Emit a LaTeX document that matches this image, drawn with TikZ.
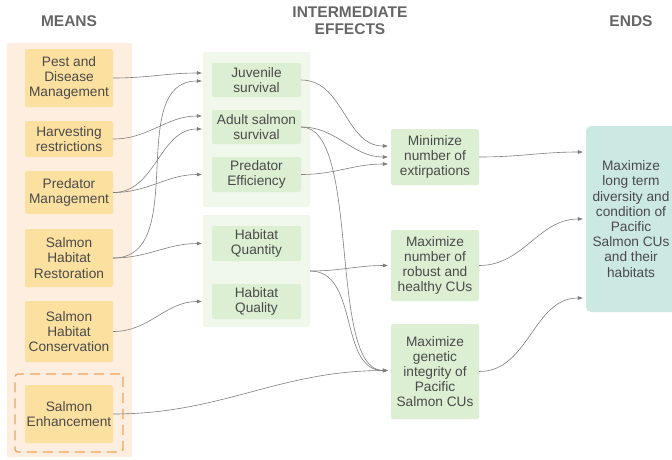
\documentclass[tikz,border=0pt]{standalone}
\usepackage{fontspec}
\setmainfont{Liberation Sans}
\usetikzlibrary{arrows.meta}
\definecolor{orbg}{HTML}{FDEEE0}
\definecolor{meanfill}{HTML}{FCE09F}
\definecolor{dashc}{HTML}{F0A55C}
\definecolor{grpbg}{HTML}{EFF8EA}
\definecolor{efffill}{HTML}{DCEFD2}
\definecolor{endfill}{HTML}{CCE8E3}
\definecolor{txt}{HTML}{4A4A4A}
\definecolor{titlec}{HTML}{666666}
\definecolor{linec}{HTML}{7F7F7F}
\begin{document}
\begin{tikzpicture}[x=1pt,y=-1pt,
  font=\fontsize{13.7}{15.2}\selectfont,
  titlenode/.style={font=\fontsize{15.5}{17}\selectfont\bfseries, text=titlec, align=center, inner sep=0pt},
  meansbox/.style={fill=meanfill, rounded corners=2pt, minimum width=88pt, inner sep=0pt, align=center, text=txt},
  effbox/.style={fill=efffill, rounded corners=2pt, minimum width=89pt, inner sep=0pt, align=center, text=txt},
  objbox/.style={fill=efffill, rounded corners=2pt, minimum width=88pt, inner sep=0pt, align=center, text=txt},
  endbox/.style={fill=endfill, rounded corners=5pt, minimum width=90pt, inner sep=0pt, align=center, text=txt},
  grpbox/.style={fill=grpbg, rounded corners=2pt, minimum width=107pt, inner sep=0pt},
  conn/.style={draw=linec, line width=0.6pt, -{Triangle[length=5pt,width=3.6pt]}}
]
\useasboundingbox (0,0) rectangle (672,459);
\fill[white] (0,0) rectangle (672,459);

% titles
\node[titlenode] (tmeans) at (69,21) {MEANS};
\node[titlenode] (teff) at (350,21) {INTERMEDIATE\\EFFECTS};
\node[titlenode] (tends) at (631,21) {ENDS};

% backgrounds
\node[fill=orbg, minimum width=125pt, minimum height=414pt, inner sep=0pt] (meansbg) at (69.5,250) {};
\node[grpbox, minimum height=155pt] (g1) at (256.5,129.5) {};
\node[grpbox, minimum height=112pt] (g2) at (256.5,271) {};
\node[draw=dashc, line width=1.4pt, dash pattern=on 10pt off 6pt, rounded corners=3pt, minimum width=108pt, minimum height=78pt, inner sep=0pt] (dashbox) at (69,413) {};

% means
\node[meansbox, minimum height=58pt] (pest) at (69,78) {Pest and\\Disease\\Management};
\node[meansbox, minimum height=36pt] (harv) at (69,139) {Harvesting\\restrictions};
\node[meansbox, minimum height=43pt] (predm) at (69,192.5) {Predator\\Management};
\node[meansbox, minimum height=58pt] (rest) at (69,258) {Salmon\\Habitat\\Restoration};
\node[meansbox, minimum height=61pt] (cons) at (69,331.5) {Salmon\\Habitat\\Conservation};
\node[meansbox, minimum height=58pt] (enh) at (69,414) {Salmon\\Enhancement};

% intermediate effects
\node[effbox, minimum height=34pt] (juv) at (256.5,80) {Juvenile\\survival};
\node[effbox, minimum height=34pt] (adult) at (256.5,127) {Adult salmon\\survival};
\node[effbox, minimum height=35pt] (pred) at (256.5,174.5) {Predator\\Efficiency};
\node[effbox, minimum height=35pt] (hquan) at (256.5,243.5) {Habitat\\Quantity};
\node[effbox, minimum height=35pt] (hqual) at (256.5,301.5) {Habitat\\Quality};

% objectives
\node[objbox, minimum height=56pt] (minx) at (435,157) {Minimize\\number of\\extirpations};
\node[objbox, minimum height=71pt] (robust) at (435,265.5) {Maximize\\number of\\robust and\\healthy CUs};
\node[objbox, minimum height=95pt] (genet) at (435,371.5) {Maximize\\genetic\\integrity of\\Pacific\\Salmon CUs};

% ends
\node[endbox, minimum height=186pt] (ends) at (631,219) {Maximize\\long term\\diversity and\\condition of\\Pacific\\Salmon CUs\\and their\\habitats};

% connectors: means -> effects
\draw[conn] (pest.east) to[out=0,in=180] ([xshift=-10pt,yshift=7pt]juv.west);
\draw[conn] (rest.east) to[out=0,in=180] ([xshift=-10pt,yshift=-1pt]juv.west);
\draw[conn] (harv.east) to[out=0,in=180] ([xshift=-10pt,yshift=11pt]adult.west);
\draw[conn] (predm.east) to[out=0,in=180] ([xshift=-10pt,yshift=-2pt]adult.west);
\draw[conn] (predm.east) to[out=0,in=180] ([xshift=-10pt]pred.west);
\draw[conn] (rest.east) to[out=0,in=180] ([xshift=-10pt]hquan.west);
\draw[conn] (cons.east) to[out=0,in=180] ([xshift=-10pt]hqual.west);
\draw[conn] (enh.east) to[out=0,in=180] ([xshift=-3pt,yshift=1pt]genet.west);

% effects -> objectives
\draw[conn] (juv.east) to[out=0,in=180] ([xshift=-3pt,yshift=11pt]minx.west);
\draw[conn] (adult.east) to[out=0,in=180] ([xshift=-3pt]minx.west);
\draw[conn] (pred.east) to[out=0,in=180] ([xshift=-3pt,yshift=-7pt]minx.west);
\draw[conn] (adult.east) to[out=0,in=180,looseness=0.6] ([xshift=-3pt,yshift=1pt]genet.west);
\draw[conn] (g2.east) to[out=0,in=180] ([xshift=-3pt]robust.west);
\draw[conn] (g2.east) to[out=0,in=180] ([xshift=-3pt,yshift=1pt]genet.west);

% objectives -> ends
\draw[conn] (minx.east) to[out=0,in=180] ([xshift=-3pt,yshift=67pt]ends.west);
\draw[conn] (robust.east) to[out=0,in=180] ([xshift=-3pt]ends.west);
\draw[conn] (genet.east) to[out=0,in=180] ([xshift=-3pt,yshift=-79pt]ends.west);
\end{tikzpicture}
\end{document}
